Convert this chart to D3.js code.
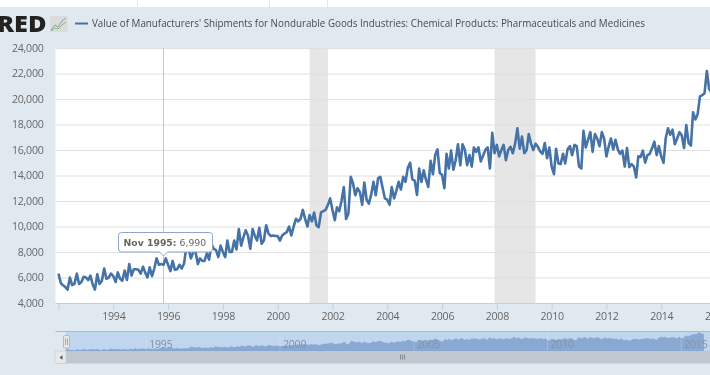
<!DOCTYPE html>
<html>
<head>
<meta charset="utf-8">
<style>
    html, body { margin: 0; padding: 0; background: #e1e9f0; overflow: hidden; }
    svg { display: block; font-family: "Open Sans", sans-serif; filter: blur(0.35px); }
</style>
</head>
<body></body>

<script type='text/javascript' src='https://d3js.org/d3.v7.min.js'></script>
<script>
    var width = 710, height = 375;

    var seriesTitle = "Value of Manufacturers' Shipments for Nondurable Goods Industries: Chemical Products: Pharmaceuticals and Medicines";
    var firstMonth = new Date(1992, 0, 1);

    // monthly values, one row per year from 1992
    var shipments = [
        6300, 5550, 5400, 5250, 5050, 6000, 5400, 5500, 6300, 5500, 5650, 6050,
        6000, 5800, 6150, 5450, 5050, 6250, 5500, 5750, 6700, 5900, 6000, 6300,
        6100, 5650, 6400, 5900, 5750, 6550, 5800, 7050, 6150, 6650, 6650, 6600,
        6300, 6850, 6400, 6000, 6800, 6100, 6700, 7500, 7000, 7050, 6990, 7500,
        7000, 6500, 7300, 6600, 6650, 7000, 6700, 7100, 8400, 8200, 7500, 8000,
        8000, 7050, 7500, 7300, 7300, 7900, 7400, 8650, 8250, 8150, 7600, 8500,
        8000, 7600, 8900, 8000, 8000, 8900, 8200, 9800, 8500, 9150, 9700, 9300,
        8250, 9800, 9300, 8900, 9900, 8650, 8900, 10100, 9450, 9250, 9300, 9250,
        9250, 8900, 9300, 9450, 9550, 10000, 9300, 10000, 10600, 10400, 10600, 11300,
        10600, 10000, 10900, 10400, 11100, 10100, 9950, 11100, 11200, 11300, 11700, 12200,
        11300, 10500, 11500, 11200, 12000, 13100, 10600, 11000, 13900, 13400, 12450, 13000,
        12700, 11700, 13450, 12100, 11800, 12500, 13500, 12450, 13800, 13900, 13000, 12200,
        12100, 11700, 13100, 12200, 12800, 13500, 12900, 13900, 13500, 14600, 15000, 13700,
        13600, 12470, 14550, 13500, 14400, 13650, 13100, 15150, 14100, 15600, 16050, 14200,
        14050, 13000, 15700, 14550, 15950, 14450, 15200, 16450, 14800, 16450, 16000, 14800,
        15600, 14700, 16200, 15850, 16200, 15100, 15550, 16000, 16200, 14550, 17350, 15750,
        16400, 15500, 16000, 16400, 15200, 16000, 16250, 15750, 16500, 17700, 16100, 17050,
        15750, 16000, 17250, 16500, 16000, 16500, 16250, 15900, 15700, 16550, 15350, 16200,
        14700, 14100, 16100, 14950, 14900, 15700, 14950, 16050, 16300, 15600, 16400, 16300,
        14700, 14550, 17500, 16200, 16800, 17400, 15850, 17250, 16900, 16300, 17400, 16900,
        15500, 16300, 16900, 16050, 16800, 16050, 15700, 15950, 14700, 16150, 14650, 14900,
        14700, 13850, 15500, 15450, 15950, 15000, 15600, 15700, 16150, 16650, 15600, 16300,
        15500, 15000, 16900, 17700, 17200, 17600, 16450, 16900, 17400, 17150, 16150, 17950,
        16550, 16350, 18950, 18400, 18800, 20200, 20300, 20450, 22200, 20800, 20500
    ];
    var yTicks = [4000, 6000, 8000, 10000, 12000, 14000, 16000, 18000, 20000, 22000, 24000];
    var xTickYears = [1992, 1994, 1996, 1998, 2000, 2002, 2004, 2006, 2008, 2010, 2012, 2014, 2016];
    var navYears = [1995, 2000, 2005, 2010, 2015];
    var recessions = [
        [new Date(2001, 2, 1), new Date(2001, 10, 1)],
        [new Date(2007, 11, 1), new Date(2009, 5, 1)]
    ];
    var hoverDate = new Date(1995, 10, 1), hoverValue = 6990;

    var data = shipments.map(function (v, i) {
        return { date: new Date(firstMonth.getFullYear(), i, 1), value: v };
    });

    // setup svg
    var svg = d3.select('body').append('svg').attr('width', width).attr('height', height);

    svg.append('rect').attr('width', width).attr('height', height).attr('fill', '#e1e9f0');

    // bit of page above the chart
    svg.append('rect').attr('width', width).attr('height', 7).attr('fill', '#fff');
    [137, 269, 327].forEach(function (x) {
        svg.append('line').attr('x1', x + .5).attr('x2', x + .5).attr('y1', 0).attr('y2', 7).attr('stroke', '#e3e6ea');
    });

    var plot = { left: 55.5, right: 710, top: 48, bottom: 303 };

    var x = d3.scaleTime().domain([firstMonth, new Date(2016, 0, 1)]).range([58.5, 716]);
    var y = d3.scaleLinear().domain([4000, 24000]).range([plot.bottom, plot.top]);

    svg.append('rect')
        .attr('x', plot.left).attr('y', plot.top)
        .attr('width', plot.right - plot.left).attr('height', plot.bottom - plot.top)
        .attr('fill', '#fff');

    // recession bands
    svg.selectAll('.band').data(recessions).join('rect')
        .attr('class', 'band')
        .attr('x', function (d) { return x(d[0]); })
        .attr('width', function (d) { return x(d[1]) - x(d[0]); })
        .attr('y', plot.top).attr('height', plot.bottom - plot.top)
        .attr('fill', '#e6e6e6');

    // y axis and grid
    var yAxis = svg.append('g')
        .attr('transform', 'translate(' + plot.left + ',0)')
        .call(d3.axisLeft(y).tickValues(yTicks).tickFormat(d3.format(',')).tickSize(0).tickPadding(12));
    yAxis.select('.domain').remove();
    yAxis.selectAll('text').attr('font-family', '"Open Sans"').attr('font-size', 10.6).attr('letter-spacing', -0.25).attr('fill', '#666');
    yAxis.selectAll('.tick line')
        .attr('x2', plot.right - plot.left)
        .attr('stroke', '#e0e0e0');

    // x axis
    var xAxis = svg.append('g')
        .attr('transform', 'translate(0,' + plot.bottom + ')')
        .call(d3.axisBottom(x)
            .tickValues(xTickYears.map(function (yr) { return new Date(yr, 0, 1); }))
            .tickFormat(function (d) { return d.getFullYear() == 1992 ? '' : d.getFullYear(); })
            .tickSize(7).tickPadding(2));
    xAxis.select('.domain').attr('stroke', '#c0d0e0').attr('d', 'M' + plot.left + ',.5H' + plot.right);
    xAxis.selectAll('.tick line').attr('stroke', '#c0d0e0');
    xAxis.selectAll('text').attr('font-family', '"Open Sans"').attr('font-size', 10.6).attr('letter-spacing', -0.25).attr('fill', '#666');

    // crosshair sits under the line
    svg.append('line')
        .attr('x1', x(hoverDate)).attr('x2', x(hoverDate))
        .attr('y1', plot.top).attr('y2', plot.bottom)
        .attr('stroke', '#c8c8c8').attr('stroke-width', 1);

    var line = d3.line()
        .x(function (d) { return x(d.date); })
        .y(function (d) { return y(d.value); });

    svg.append('path')
        .datum(data)
        .attr('d', line)
        .attr('fill', 'none')
        .attr('stroke', '#4572a7')
        .attr('stroke-width', 2.6)
        .attr('stroke-linejoin', 'round');

    // header: logo (cut off by the left edge), legend key, title
    svg.append('text')
        .attr('x', -3).attr('y', 32)
        .attr('font-family', '"Open Sans"').attr('font-weight', 800).attr('font-size', 22.5)
        .attr('textLength', 49.5).attr('lengthAdjust', 'spacingAndGlyphs')
        .attr('fill', '#222')
        .text('RED');
    svg.append('rect').attr('x', 50).attr('y', 16).attr('width', 17.5).attr('height', 16).attr('fill', '#dcdcdc');
    svg.append('path').attr('d', 'M51,30L55,25L58,27L62,21L66,18').attr('fill', 'none').attr('stroke', '#7f9fc0');
    svg.append('path').attr('d', 'M51,31L55,28L58,29L62,25L66,22').attr('fill', 'none').attr('stroke', '#8fb36f');

    svg.append('line')
        .attr('x1', 75).attr('x2', 88).attr('y1', 23.5).attr('y2', 23.5)
        .attr('stroke', '#4572a7').attr('stroke-width', 2);
    svg.append('text')
        .attr('x', 92).attr('y', 27)
        .attr('font-family', '"Open Sans"').attr('font-size', 10.6).attr('fill', '#4a4a4a')
        .attr('textLength', 553).attr('lengthAdjust', 'spacingAndGlyphs')
        .text(seriesTitle);

    // tooltip
    var tipX = x(hoverDate);
    var tip = svg.append('g');
    tip.append('path')
        .attr('d', 'M121.5,232.5H209.5a3,3 0 0 1 3,3V249a3,3 0 0 1 -3,3H' + (tipX + 4) + 'l-4,4l-4,-4H121.5a3,3 0 0 1 -3,-3V235.5a3,3 0 0 1 3,-3Z')
        .attr('fill', '#fff')
        .attr('stroke', '#8aa6c8')
        .attr('stroke-width', 1);
    var tipText = tip.append('text')
        .attr('x', 123.5).attr('y', 245.5)
        .attr('font-family', '"DejaVu Sans"').attr('font-size', 9.3).attr('fill', '#666');
    tipText.append('tspan').attr('font-weight', 700).text(d3.timeFormat('%b %Y')(hoverDate) + ':');
    tipText.append('tspan').text(' ' + d3.format(',')(hoverValue));

    // navigator
    var navX = d3.scaleTime().domain([firstMonth, new Date(2016, 0, 1)]).range([66, 708]);
    var navY = d3.scaleLinear().domain([4700, 23500]).range([351, 331]);
    var navTop = 331, navBottom = 351;

    svg.append('rect')
        .attr('x', 66).attr('y', navTop).attr('width', width - 66).attr('height', navBottom - navTop)
        .attr('fill', '#c0d5ee');

    var navArea = d3.area()
        .x(function (d) { return navX(d.date); })
        .y0(navBottom)
        .y1(function (d) { return navY(d.value); });

    svg.append('path').datum(data).attr('d', navArea)
        .attr('fill', '#8aa9d2')
        .attr('stroke', '#7d9fcc').attr('stroke-width', .5);

    svg.selectAll('.navgrid').data(navYears).join('line')
        .attr('class', 'navgrid')
        .attr('x1', function (d) { return navX(new Date(d, 0, 1)); })
        .attr('x2', function (d) { return navX(new Date(d, 0, 1)); })
        .attr('y1', navTop).attr('y2', navBottom)
        .attr('stroke', '#fff').attr('stroke-opacity', .2);

    svg.selectAll('.navlabel').data(navYears).join('text')
        .attr('class', 'navlabel')
        .attr('x', function (d) { return navX(new Date(d, 0, 1)) + 3; })
        .attr('y', 348)
        .attr('font-family', '"Open Sans"').attr('font-size', 10.5).attr('letter-spacing', -0.2).attr('fill', '#8791a0')
        .text(function (d) { return d; });

    svg.append('line').attr('x1', plot.left).attr('x2', width).attr('y1', navTop + .5).attr('y2', navTop + .5)
        .attr('stroke', '#b4b8bf');

    // scrollbar
    svg.append('rect').attr('x', 55).attr('y', 351).attr('width', width - 55).attr('height', 12.5).attr('fill', '#bfc7d0');
    svg.append('rect').attr('x', 55).attr('y', 351).attr('width', 11).attr('height', 12.5).attr('fill', '#e6e8ea').attr('stroke', '#c4c8cc').attr('stroke-width', .5);
    svg.append('path').attr('d', 'M59.5,357.5l3,-2.2v4.4Z').attr('fill', '#555');
    [400.5, 402.5, 404.5].forEach(function (gx) {
        svg.append('line').attr('x1', gx).attr('x2', gx).attr('y1', 354.5).attr('y2', 359.5).attr('stroke', '#888');
    });

    // handle on the navigator
    svg.append('rect').attr('x', 63.5).attr('y', 335.5).attr('width', 6).attr('height', 12.5).attr('rx', 1)
        .attr('fill', '#e6e6e6').attr('stroke', '#b8b8b8');
    [65.5, 67.5].forEach(function (hx) {
        svg.append('line').attr('x1', hx).attr('x2', hx).attr('y1', 338.5).attr('y2', 345).attr('stroke', '#aaa');
    });
</script>
</html>
